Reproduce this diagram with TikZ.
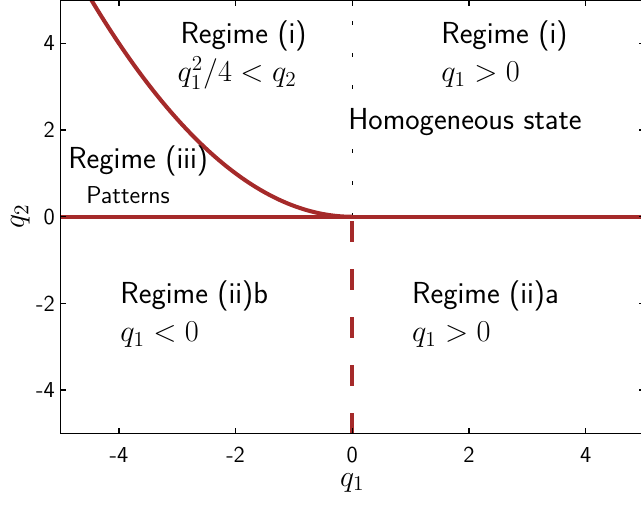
\documentclass[tikz,border=0pt]{standalone}
\usepackage{fix-cm}
\usepackage{amsmath}
\usepackage{xcolor}
\definecolor{phaseink}{HTML}{000000}
\definecolor{phasered}{HTML}{A52A2A}
\newcommand{\onsetcurve}[1]{(#1)*(#1)/4}

\begin{document}
\begin{tikzpicture}[
  x=1.167cm,
  y=0.867cm,
  every node/.style={font=\sffamily\fontsize{17.3}{20}\selectfont, phaseink},
  frame/.style={phaseink, line width=0.85pt},
  tick/.style={phaseink, line width=0.85pt},
  ticklabel/.style={font=\sffamily\fontsize{13}{15}\selectfont, inner sep=0pt},
  border/.style={phasered, line width=2.3pt},
  brokenborder/.style={phasered, line width=2.3pt, dash pattern=on 11.9pt off 15.4pt},
  divider/.style={phaseink, line width=0.75pt, dash pattern=on 2.3pt off 15.9pt},
  regime/.style={anchor=base west, inner sep=0pt},
  smallregime/.style={anchor=base west, inner sep=0pt, font=\sffamily\fontsize{13.9}{16}\selectfont}
]
  \useasboundingbox (-6.038,-6.674) rectangle (4.948,5.0);

  % ---- phase boundaries --------------------------------------------------
  % The parabola q2 = q1^2/4 leaves the frame near q1 = -4.47, so it is
  % clipped to the plotting window together with the axis q2 = 0.
  \begin{scope}
    \clip (-5,-5) rectangle (5,5);
    \draw[divider] (0,0) -- (0,5);
    \draw[brokenborder] (0,-5) -- (0,0);
    \draw[border] (-5,0) -- (5,0);
    \draw[border] plot[domain=-4.6:0, samples=120, smooth]
      (\x,{\onsetcurve{\x}});
  \end{scope}

  % ---- frame and inward ticks ------------------------------------------
  \draw[frame] (-5,-5) rectangle (5,5);
  \foreach \p in {-4,-2,0,2,4} {
    \draw[tick] (\p,-5) -- ([yshift=0.11cm]\p,-5);
    \draw[tick] (\p,5) -- ([yshift=-0.11cm]\p,5);
    \draw[tick] (-5,\p) -- ([xshift=0.11cm]-5,\p);
    \draw[tick] (5,\p) -- ([xshift=-0.11cm]5,\p);
    \node[ticklabel, anchor=north] (xtick\p) at ([yshift=-0.265cm]\p,-5) {\p};
    \node[ticklabel, anchor=east] (ytick\p) at ([xshift=-0.11cm]-5,\p) {\p};
  }

  % ---- axis labels -----------------------------------------------------
  \node[anchor=base, inner sep=0pt, font=\fontsize{17}{20}\selectfont] (qonelabel) at (0,-6.22) {$q_1$};
  \node[rotate=90, inner sep=0pt, font=\fontsize{17}{20}\selectfont] (qtwolabel) at (-5.69,0) {$q_2$};

  % ---- regime labels -----------------------------------------------------
  \node[regime] (regimeIleft) at (-2.95,4.0) {Regime (i)};
  \node[regime] (condIleft) at (-3.0,3.11) {$q_1^2/4<q_2$};
  \node[regime] (regimeIright) at (1.52,4.0) {Regime (i)};
  \node[regime] (condIright) at (1.52,3.11) {$q_1>0$};
  \node[regime] (homogeneous) at (-0.074,2.02) {Homogeneous state};

  \node[regime] (regimeIII) at (-4.873,1.12) {Regime (iii)};
  \node[smallregime] (patterns) at (-4.564,0.31) {Patterns};

  \node[regime] (regimeIIb) at (-3.98,-2.0) {Regime (ii)b};
  \node[regime] (condIIb) at (-3.98,-2.88) {$q_1<0$};
  \node[regime] (regimeIIa) at (1.02,-2.0) {Regime (ii)a};
  \node[regime] (condIIa) at (1.02,-2.88) {$q_1>0$};

\end{tikzpicture}
\end{document}
